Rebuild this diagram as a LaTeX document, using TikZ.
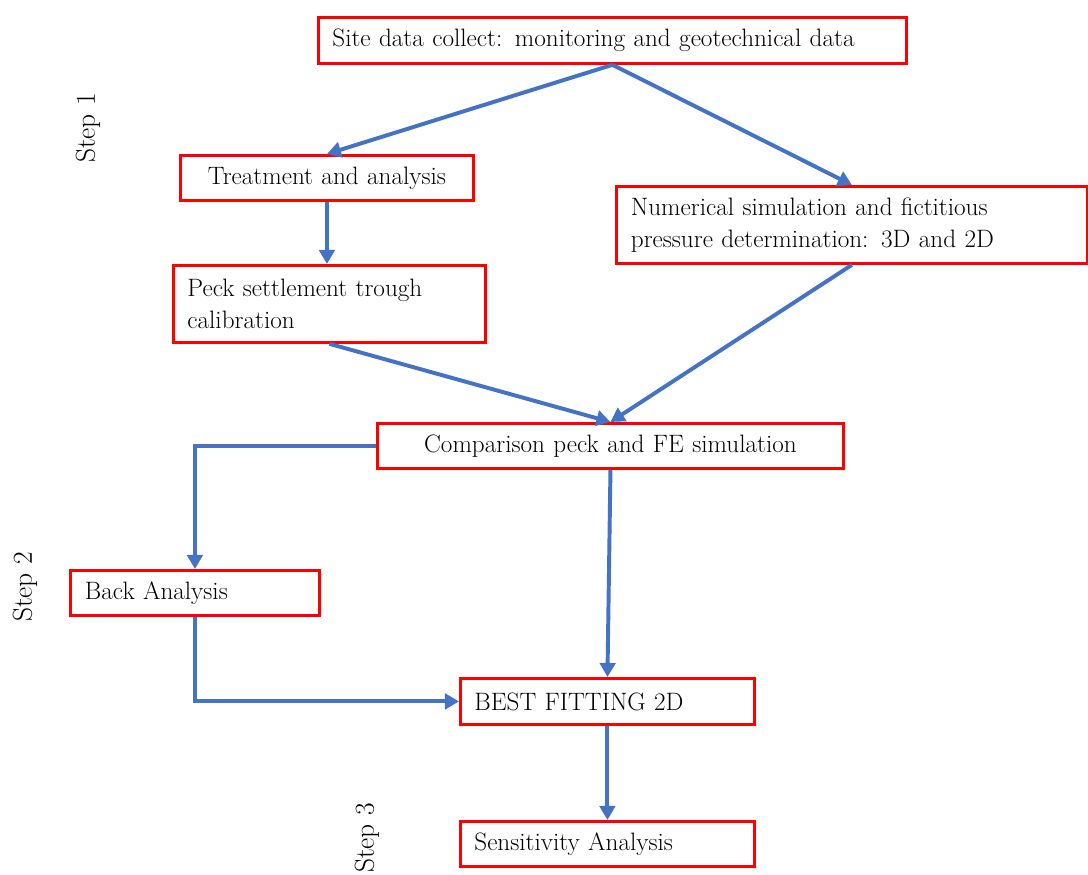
\documentclass[tikz,border=0pt]{standalone}
\usetikzlibrary{arrows.meta}

\tikzset{
  box/.style={draw=red, line width=2pt, anchor=north west, inner xsep=0.35cm,
    font=\fontsize{17.9}{22.5}\selectfont, align=left},
  flow/.style={->, line width=2.8pt, draw=flowblue},
  steplabel/.style={rotate=90, font=\fontsize{19.5}{22}\selectfont}
}
\definecolor{flowblue}{HTML}{4472C4}

\begin{document}
\begin{tikzpicture}[x=0.025cm,y=-0.025cm,>={Triangle[length=10pt,width=11pt]}]
  \useasboundingbox (0,0) rectangle (1088,875);

  % Boxes
  \node[box, minimum width=14.7cm, minimum height=1.15cm, text width=14cm] (site) at (317,16)
    {Site data collect: monitoring and geotechnical data};
  \node[box, minimum width=7.325cm, minimum height=1.125cm, text width=6.6cm, align=center] (treat) at (179,154)
    {Treatment and analysis};
  \node[box, minimum width=11.775cm, minimum height=1.925cm, text width=11.05cm] (num) at (615,185)
    {Numerical simulation and fictitious\\pressure determination: 3D and 2D};
  \node[box, minimum width=7.8cm, minimum height=1.925cm, text width=7.1cm] (peck) at (172,264)
    {Peck settlement trough\\calibration};
  \node[box, minimum width=11.65cm, minimum height=1.125cm, text width=10.9cm, align=center] (comp) at (376,422)
    {Comparison peck and FE simulation};
  \node[box, minimum width=6.225cm, minimum height=1.125cm, text width=5.5cm] (back) at (69,569)
    {Back Analysis};
  \node[box, minimum width=7.35cm, minimum height=1.15cm, text width=6.65cm] (best) at (459,677)
    {BEST FITTING 2D};
  \node[box, minimum width=7.35cm, minimum height=1.125cm, text width=6.65cm] (sens) at (459,820)
    {Sensitivity Analysis};

  % Steps
  \node[steplabel] (s1) at (88,128) {Step 1};
  \node[steplabel] (s2) at (25,587) {Step 2};
  \node[steplabel] (s3) at (367,838) {Step 3};

  % Arrows
  \draw[flow] (site.south) -- (treat.north);
  \draw[flow] (site.south) -- (num.north);
  \draw[flow] (treat.south) -- (treat.south |- peck.north);
  \draw[flow] (peck.south) -- (comp.north);
  \draw[flow] (num.south) -- (comp.north);
  \draw[flow] (comp.west) -| (back.north);
  \draw[flow] (comp.south) -- (best.north);
  \draw[flow] (back.south) |- (best.west);
  \draw[flow] (best.south) -- (sens.north);
\end{tikzpicture}
\end{document}
